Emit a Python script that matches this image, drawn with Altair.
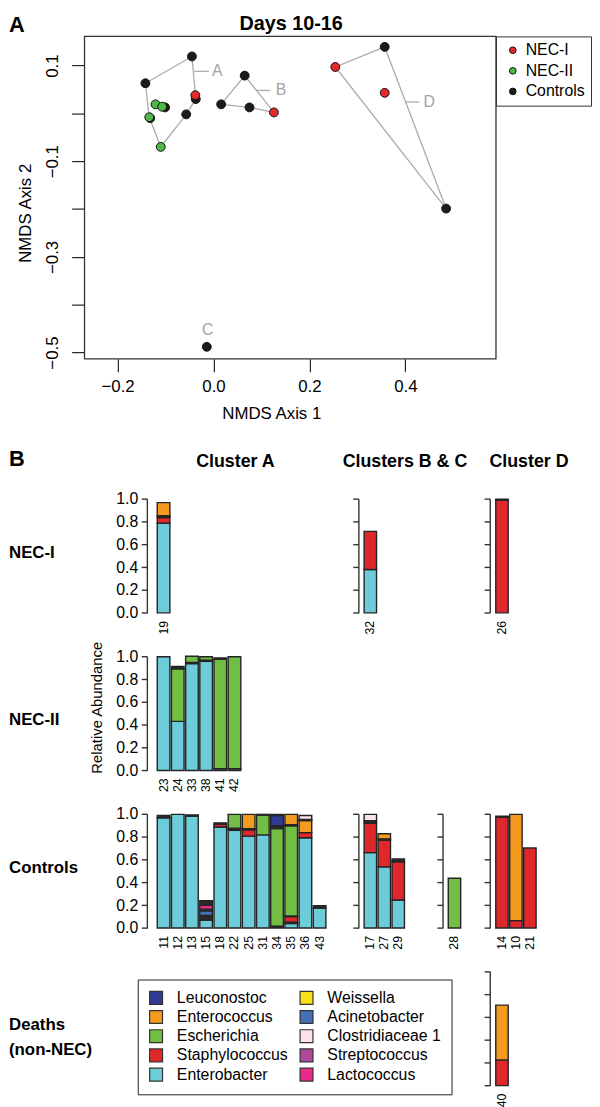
import altair as alt
import pandas as pd

FONT = "Liberation Sans"

# ---------------- Panel A: NMDS ordination (Days 10-16) ----------------
GROUPS = ["NEC-I", "NEC-II", "Controls"]
GROUP_COLORS = ["#E3292B", "#4DB848", "#1B1B1B"]

PT_GROUP = ["Controls"] * 12 + ["NEC-I"] * 4 + ["NEC-II"] * 4
PT_X = [-0.045, -0.142, -0.037, -0.057, -0.101, -0.132, 0.016, 0.065, 0.075, 0.357, 0.485, -0.014,
        -0.038, 0.126, 0.254, 0.357,
        -0.121, -0.107, -0.134, -0.110]
PT_Y = [0.119, 0.063, 0.030, -0.002, 0.0125, -0.010, 0.019, 0.079, 0.0125, 0.139, -0.199, -0.488,
        0.038, 0.002, 0.097, 0.043,
        0.019, 0.014, -0.008, -0.070]

HULL_A_X = [-0.045, -0.037, -0.057, -0.110, -0.134, -0.142, -0.045]
HULL_A_Y = [0.119, 0.030, -0.002, -0.070, -0.008, 0.063, 0.119]
HULL_B_X = [0.065, 0.126, 0.075, 0.016, 0.065]
HULL_B_Y = [0.079, 0.002, 0.0125, 0.019, 0.079]
HULL_D_X = [0.357, 0.485, 0.254, 0.357]
HULL_D_Y = [0.139, -0.199, 0.097, 0.139]

CL_NAME = ["A", "B", "C", "D"]
CL_X = [0.008, 0.141, -0.012, 0.450]
CL_Y = [0.088, 0.048, -0.453, 0.024]
LEAD_X1 = [-0.040, 0.088, 0.401]
LEAD_X2 = [-0.0095, 0.118, 0.429]
LEAD_Y = [0.088, 0.048, 0.024]

X_DOMAIN = [-0.269, 0.589]
Y_DOMAIN = [-0.513, 0.161]

# ---------------- Panel B: relative abundance bars ----------------
NEC1_A = ["19"]
NEC1_B = ["32"]
NEC1_D = ["26"]
NEC2_A = ["23", "24", "33", "38", "41", "42"]
CTRL_A = ["11", "12", "13", "15", "18", "22", "25", "31", "34", "35", "36", "43"]
CTRL_B = ["17", "27", "29"]
CTRL_C = ["28"]
CTRL_D = ["14", "10", "21"]
DEATH_D = ["40"]

ENTEROBACTER = {"19": .785, "32": .38, "23": .995, "24": .43, "33": .935, "38": .955, "41": .015,
                "42": .015, "11": .965, "12": .995, "13": .98, "15": .07, "18": .885, "22": .855,
                "25": .805, "31": .815, "35": .04, "36": .79, "43": .175, "17": .66, "27": .535, "29": .245}
OTHER_1 = {"15": .04, "34": .015, "35": .01}
ACINETOBACTER = {"15": .04}
STAPHYLOCOCCUS = {"19": .05, "32": .333, "26": .985, "18": .025, "22": .01, "25": .055, "35": .05,
                  "36": .045, "17": .26, "27": .235, "29": .335, "14": .97, "10": .065, "21": .70, "40": .225}
OTHER_2 = {"19": .015, "26": .01, "33": .01, "38": .01, "11": .02, "13": .01, "15": .015, "18": .01,
           "22": .01, "25": .01, "35": .005, "17": .02, "27": .01, "29": .025, "14": .01}
LACTOCOCCUS = {"15": .035}
ESCHERICHIA = {"24": .46, "33": .055, "38": .03, "41": .96, "42": .98, "22": .12, "31": .175,
               "34": .855, "35": .79, "28": .436}
OTHER_3 = {"24": .02, "41": .01, "15": .04, "31": .005, "34": .025, "35": .01, "43": .02}
LEUCONOSTOC = {"34": .09}
ENTEROCOCCUS = {"19": .115, "25": .125, "35": .09, "36": .105, "27": .045, "10": .93, "40": .48}
OTHER_4 = {"34": .01, "36": .01}
CLOSTRIDIACEAE = {"36": .035, "17": .055}
WEISSELLA = {}
STREPTOCOCCUS = {}

STACK = [("Enterobacter", ENTEROBACTER), ("Other", OTHER_1), ("Acinetobacter", ACINETOBACTER),
         ("Staphylococcus", STAPHYLOCOCCUS), ("Other", OTHER_2), ("Lactococcus", LACTOCOCCUS),
         ("Escherichia", ESCHERICHIA), ("Other", OTHER_3), ("Leuconostoc", LEUCONOSTOC),
         ("Enterococcus", ENTEROCOCCUS), ("Other", OTHER_4), ("Clostridiaceae 1", CLOSTRIDIACEAE),
         ("Weissella", WEISSELLA), ("Streptococcus", STREPTOCOCCUS)]

LEGEND_ORDER = ["Leuconostoc", "Enterococcus", "Escherichia", "Staphylococcus", "Enterobacter",
                "Weissella", "Acinetobacter", "Clostridiaceae 1", "Streptococcus", "Lactococcus"]
LEGEND_COLORS = ["#2F3B95", "#F39A1F", "#72BE44", "#E0272B", "#6DCCD9",
                 "#F6E01A", "#4570B6", "#FBE2EA", "#B0489E", "#E82A8A"]
COLOR_DOMAIN = LEGEND_ORDER + ["Other"]
COLOR_RANGE = LEGEND_COLORS + ["#2B2B2B"]

# ---------------- layout constants ----------------
TOP_H = 21.3
PA_LEFT, PA_W, PA_H = 76.3, 415.7, 325.7
HEADB_H = 140.3
ROW_H, ROW_GAP = 115.4, 43.2
LABEL_W = 149
COL_W = [209, 85, 47.6, 60]
OFFSETS = [9.7, 5, 5, 5.3]
STEPS = [14.33, 14.1, 14.1, 14.1]
HULL_GRAY = "#ABABAB"
LABEL_GRAY = "#A3A3A3"
BAR_EDGE = "#242424"

# ---------------- Panel A chart ----------------
pts = pd.DataFrame({"nmds1": PT_X, "nmds2": PT_Y, "grp": PT_GROUP})
pts["z"] = [0 if g == "Controls" else 1 for g in PT_GROUP]
hull_rows = []
for name, xs, ys in [("A", HULL_A_X, HULL_A_Y), ("B", HULL_B_X, HULL_B_Y), ("D", HULL_D_X, HULL_D_Y)]:
    for i, (hx, hy) in enumerate(zip(xs, ys)):
        hull_rows.append({"hull": name, "i": i, "nmds1": hx, "nmds2": hy})
hulls = pd.DataFrame(hull_rows)
leaders = pd.DataFrame({"nmds1": LEAD_X1, "x2": LEAD_X2, "nmds2": LEAD_Y})
cl_labels = pd.DataFrame({"nmds1": CL_X, "nmds2": CL_Y, "name": CL_NAME})
frame = pd.DataFrame({"nmds1": [X_DOMAIN[0]], "x2": [X_DOMAIN[1]],
                      "nmds2": [Y_DOMAIN[0]], "y2": [Y_DOMAIN[1]]})

xsc = alt.Scale(domain=X_DOMAIN, range=[PA_LEFT, PA_LEFT + PA_W], nice=False, zero=False)
ysc = alt.Scale(domain=Y_DOMAIN, nice=False, zero=False)
xax = alt.Axis(title="NMDS Axis 1", values=[-0.2, 0, 0.2, 0.4], format=".1f", grid=False, domain=False,
               tickSize=13, tickColor="#222", tickWidth=1.2, labelFontSize=17, labelPadding=7,
               labelColor="black", labelFlush=False, labelFont=FONT, titleFont=FONT,
               titleFontSize=17, titleFontWeight="normal", titleColor="black",
               titleX=265, titleY=55, titleBaseline="middle")
yax = alt.Axis(title="NMDS Axis 2", values=[-0.5, -0.4, -0.3, -0.2, -0.1, 0, 0.1], format=".1f",
               labelExpr="abs(round(datum.value*10)) % 2 == 1 ? datum.label : ''",
               offset=-PA_LEFT,
               grid=False, domain=False, tickSize=13, tickColor="#222", tickWidth=1.2,
               labelAngle=-90, labelAlign="center", labelBaseline="bottom", labelPadding=10,
               labelFontSize=17, labelColor="black", labelFlush=False, labelOverlap=False,
               labelFont=FONT, titleFont=FONT, titleFontSize=17, titleFontWeight="normal",
               titleColor="black", titleX=-59.3, titleY=178.2, titleBaseline="middle")
X = alt.X("nmds1:Q", scale=xsc, axis=xax)
Y = alt.Y("nmds2:Q", scale=ysc, axis=yax)

frame_layer = alt.Chart(frame).mark_rect(fill="transparent", stroke="#333", strokeWidth=1.3).encode(
    x=X, x2="x2:Q", y=Y, y2="y2:Q")
hull_layer = alt.Chart(hulls).mark_line(color=HULL_GRAY, strokeWidth=1.3).encode(
    x=X, y=Y, detail="hull:N", order="i:Q")
lead_layer = alt.Chart(leaders).mark_rule(color=HULL_GRAY, strokeWidth=1.3).encode(
    x=X, x2="x2:Q", y=Y)
lab_layer = alt.Chart(cl_labels).mark_text(color=LABEL_GRAY, fontSize=16, font=FONT).encode(
    x=X, y=Y, text="name:N")
pt_layer = alt.Chart(pts).mark_circle(size=80, stroke="#111", strokeWidth=1, opacity=1).encode(
    x=X, y=Y,
    fill=alt.Fill("grp:N", scale=alt.Scale(domain=GROUPS, range=GROUP_COLORS),
                  legend=alt.Legend(title=None, orient="none", legendX=PA_LEFT + PA_W, legendY=0,
                                    symbolType="circle", symbolSize=45, symbolStrokeColor="#111",
                                    symbolStrokeWidth=1, symbolOffset=3, labelOffset=5,
                                    labelFontSize=16, labelFont=FONT, labelColor="black",
                                    rowPadding=4.8, padding=6, strokeColor="#333",
                                    labelExpr="datum.label + '\u00a0\u00a0\u00a0'")),
    order=alt.Order("z:Q"))
panelA = alt.layer(frame_layer, hull_layer, lead_layer, lab_layer, pt_layer).properties(
    width=PA_LEFT + PA_W, height=PA_H)

# ---------------- Panel B charts ----------------
bar_rows = []
for k, (gname, series) in enumerate(STACK):
    for s, v in series.items():
        bar_rows.append({"sample": s, "genus": gname, "value": v, "stack": k})
bars = pd.DataFrame(bar_rows)


def blank(w, h, texts=()):
    base = alt.Chart(pd.DataFrame({"v": [0]}))
    layers = [base.mark_point(opacity=0, size=1).encode(x=alt.value(w / 2), y=alt.value(h / 2))]
    for t in texts:
        layers.append(base.mark_text(text=t["text"], fontSize=t.get("size", 17),
                                     fontWeight=t.get("weight", "bold"), align=t.get("align", "left"),
                                     baseline=t.get("baseline", "middle"), angle=t.get("angle", 0),
                                     color="black", font=FONT)
                      .encode(x=alt.value(t["x"]), y=alt.value(t["y"])))
    return alt.layer(*layers).properties(width=w, height=h)


def cell(samples, col, legend=None):
    n = len(samples)
    d = bars[bars["sample"].isin(samples)]
    x = alt.X("sample:N", sort=samples,
              scale=alt.Scale(domain=samples, range=[0, n * STEPS[col]], paddingInner=0.11,
                              paddingOuter=0.055),
              axis=alt.Axis(title=None, domain=False, ticks=False, tickSize=0, labelAngle=-90,
                            labelAlign="right", labelBaseline="middle", labelPadding=7.5,
                            labelFontSize=12.5, labelColor="black", labelOverlap=False, labelFont=FONT))
    y = alt.Y("value:Q", stack="zero", scale=alt.Scale(domain=[0, 1], nice=False),
              axis=alt.Axis(title=None, values=[0, 0.2, 0.4, 0.6, 0.8, 1.0], format=".1f",
                            offset=OFFSETS[col], labels=(col == 0), grid=False, tickSize=5.7,
                            tickColor="#333", tickWidth=1.4, domainColor="#333", domainWidth=1.4,
                            labelFontSize=16, labelPadding=3.5, labelColor="black", labelFlush=False,
                            labelOverlap=False, labelFont=FONT))
    color = alt.Color("genus:N", scale=alt.Scale(domain=COLOR_DOMAIN, range=COLOR_RANGE), legend=legend)
    return alt.Chart(d).mark_bar(stroke=BAR_EDGE, strokeWidth=1.4).encode(
        x=x, y=y, color=color, order=alt.Order("stack:Q")).properties(width=COL_W[col], height=ROW_H)


taxa_legend = alt.Legend(title=None, orient="none", legendX=-360.9, legendY=8.2, columns=2,
                         values=LEGEND_ORDER, symbolType="square", symbolSize=170,
                         symbolStrokeColor="#333", symbolStrokeWidth=1.2, symbolOpacity=1,
                         labelFontSize=16, labelFont=FONT, labelColor="black", labelOffset=13,
                         labelLimit=300, rowPadding=1.4, columnPadding=9, padding=10.5,
                         strokeColor="#222")

grid_cells = [
    blank(LABEL_W, ROW_H, [{"text": "NEC-I", "x": 0, "y": 54.7}]),
    cell(NEC1_A, 0), cell(NEC1_B, 1), blank(COL_W[2], ROW_H), cell(NEC1_D, 3),
    blank(LABEL_W, ROW_H, [{"text": "NEC-II", "x": 0, "y": 64},
                           {"text": "Relative Abundance", "x": 89, "y": 52, "size": 15,
                            "weight": "normal", "align": "center", "angle": 270}]),
    cell(NEC2_A, 0), blank(COL_W[1], ROW_H), blank(COL_W[2], ROW_H), blank(COL_W[3], ROW_H),
    blank(LABEL_W, ROW_H, [{"text": "Controls", "x": 0, "y": 54.5}]),
    cell(CTRL_A, 0), cell(CTRL_B, 1), cell(CTRL_C, 2), cell(CTRL_D, 3),
    blank(LABEL_W, ROW_H, [{"text": "Deaths", "x": 0, "y": 54},
                           {"text": "(non-NEC)", "x": 0, "y": 79}]),
    blank(COL_W[0], ROW_H), blank(COL_W[1], ROW_H), blank(COL_W[2], ROW_H),
    cell(DEATH_D, 3, legend=taxa_legend),
]
panelB = alt.concat(*grid_cells, columns=5, spacing={"row": ROW_GAP, "column": 0},
                    bounds="flush", align="each").resolve_scale(
    color="independent").resolve_legend(color="independent")

top_header = blank(584, TOP_H, [
    {"text": "A", "x": 0, "y": 1, "size": 22, "baseline": "top"},
    {"text": "Days 10-16", "x": 285, "y": 0, "size": 20, "baseline": "top", "align": "center"}])
head_b = blank(584, HEADB_H, [
    {"text": "B", "x": 0, "y": HEADB_H - 38.8, "size": 22},
    {"text": "Cluster A", "x": 228.7, "y": HEADB_H - 35.8, "size": 18, "align": "center"},
    {"text": "Clusters B & C", "x": 400, "y": HEADB_H - 35.8, "size": 18, "align": "center"},
    {"text": "Cluster D", "x": 525.3, "y": HEADB_H - 35.8, "size": 18, "align": "center"}])

chart = alt.vconcat(top_header, panelA, head_b, panelB, spacing=0, bounds="flush").resolve_scale(
    color="independent", fill="independent").resolve_legend(
    color="independent", fill="independent").properties(padding=0).configure(
    font=FONT).configure_view(stroke="transparent")

chart.save("out.html", embed_options={"renderer": "svg", "actions": False})
